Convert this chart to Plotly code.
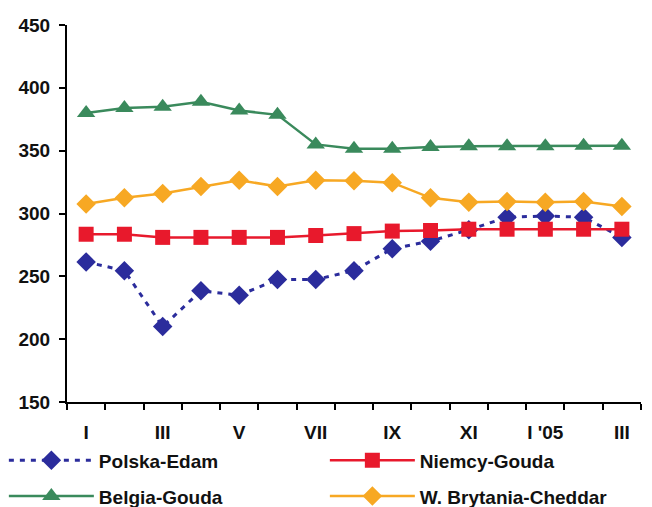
import plotly.graph_objects as go

months = ["I", "II", "III", "IV", "V", "VI", "VII", "VIII", "IX", "X", "XI", "XII", "I '05", "II '05", "III '05"]
tick_text = ["I", "", "III", "", "V", "", "VII", "", "IX", "", "XI", "", "I '05", "", "III"]

polska_edam = [261.5, 254.5, 210, 238.5, 235, 247.5, 247.5, 254.5, 272, 278, 287, 297, 298, 297, 281]
niemcy_gouda = [283.5, 283.5, 281, 281, 281, 281, 282.5, 284, 286, 286.5, 287.5, 287.5, 287.5, 287.5, 287.5]
belgia_gouda = [380, 384, 385, 389, 382, 378.5, 355, 351.5, 351.5, 353, 353.5, 353.5, 353.5, 354, 354]
wb_cheddar = [307.5, 312.5, 316, 321.5, 326.5, 321.5, 326.5, 326, 324.5, 312.5, 309, 309.5, 309, 309.5, 305.5]

BLUE = "#2b2c9c"
RED = "#e8192c"
GREEN = "#3a8a5c"
ORANGE = "#f7a823"

fig = go.Figure()
fig.add_trace(go.Scatter(x=months, y=polska_edam, name="Polska-Edam", mode="lines+markers",
                         line=dict(color=BLUE, width=3, dash="5px,6px"),
                         marker=dict(symbol="diamond", size=15, color=BLUE), legend="legend"))
fig.add_trace(go.Scatter(x=months, y=niemcy_gouda, name="Niemcy-Gouda", mode="lines+markers",
                         line=dict(color=RED, width=2.5),
                         marker=dict(symbol="square", size=15, color=RED), legend="legend"))
fig.add_trace(go.Scatter(x=months, y=belgia_gouda, name="Belgia-Gouda", mode="lines+markers",
                         line=dict(color=GREEN, width=2.5),
                         marker=dict(symbol="triangle-up", size=16, color=GREEN), legend="legend2"))
fig.add_trace(go.Scatter(x=months, y=wb_cheddar, name="W. Brytania-Cheddar", mode="lines+markers",
                         line=dict(color=ORANGE, width=2.5),
                         marker=dict(symbol="diamond", size=15, color=ORANGE), legend="legend2"))

font = dict(family="Liberation Sans, Arial, sans-serif", size=19, color="#111111", weight="bold")
leg_common = dict(orientation="h", xanchor="left", yanchor="middle", entrywidth=221,
                  entrywidthmode="pixels", itemwidth=85,
                  font=dict(family="Liberation Sans, Arial, sans-serif", size=19, color="#111111", weight="bold"),
                  bgcolor="rgba(0,0,0,0)", tracegroupgap=0)

fig.update_layout(
    width=652, height=507,
    margin=dict(l=67, r=11, t=25, b=105, autoexpand=False),
    paper_bgcolor="white", plot_bgcolor="white",
    font=font,
    legend=dict(x=-0.11, y=-0.155, **leg_common),
    legend2=dict(x=-0.11, y=-0.25, **leg_common),
)
fig.update_xaxes(type="category", tickvals=months, ticktext=tick_text, tickson="boundaries",
                 ticks="outside", ticklen=6, tickwidth=2, tickcolor="black", tickangle=0,
                 ticklabelstandoff=12,
                 showline=True, linecolor="black", linewidth=2, showgrid=False, automargin=False,
                 tickfont=font, range=[-0.5, 14.5])
fig.update_yaxes(range=[150, 450], tickvals=[150, 200, 250, 300, 350, 400, 450],
                 ticks="outside", ticklen=6, tickwidth=2, tickcolor="black", automargin=False,
                 ticklabelstandoff=5,
                 showline=True, linecolor="black", linewidth=2, showgrid=False, zeroline=False,
                 tickfont=font)

fig.write_html("out.html", config={"displayModeBar": False},
               post_script="document.body.style.margin='0';document.body.style.overflow='hidden';")
